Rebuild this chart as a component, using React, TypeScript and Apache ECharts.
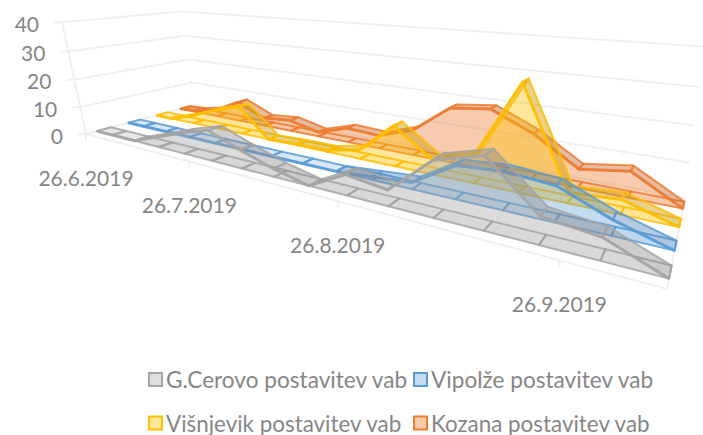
import React, { useEffect, useRef } from "react";
import * as echarts from "echarts";

const dates = ["2019-06-26","2019-07-01","2019-07-08","2019-07-15","2019-07-22","2019-07-29","2019-08-05","2019-08-12","2019-08-19","2019-08-26","2019-09-02","2019-09-09","2019-09-16","2019-09-23","2019-09-30","2019-10-07"];
const gCerovo = [0,0,0,3.5,7,10,6,2.5,0,6,4.5,15,18.5,7,5.5,0];
const vipolze = [0,0,0,0,0,0,0,0,0,1,2,9.5,10.5,9.5,4,0];
const visnjevik = [0,0,3,7,10,0,0.5,0.5,3,13,4.5,8.5,30.5,3,4,0];
const kozana = [0,0.5,2.5,7.5,3,4,1.5,5,4.5,8.5,17.5,19,13.5,5.5,7.5,0];
const valueTicks = [0,10,20,30,40];
const dateTicks = ["2019-06-26","2019-07-26","2019-08-26","2019-09-26"];
const dateTickLabels = ["26.6.2019","26.7.2019","26.8.2019","26.9.2019"];
const seriesNames = ["G.Cerovo postavitev vab","Vipolže postavitev vab","Višnjevik postavitev vab","Kozana postavitev vab"];
const seriesValues = [gCerovo, vipolze, visnjevik, kozana];
const seriesColors = ["#a5a5a5","#5b9bd5","#ffc000","#ed7d31"];
const seriesFaces = ["rgba(165,165,165,0.22)","rgba(91,155,213,0.2)","rgba(255,192,0,0.22)","rgba(237,125,49,0.22)"];
const seriesFloors = ["rgba(165,165,165,0.32)","rgba(91,155,213,0.28)","rgba(255,192,0,0.3)","rgba(237,125,49,0.3)"];
const seriesTops = ["rgba(125,125,125,0.32)","rgba(70,120,165,0.32)","rgba(185,150,40,0.42)","rgba(185,110,60,0.38)"];
const legendFills = ["#dedede","#c6dbef","#ffe699","#f8cbad"];
const legendFontSizes = [22.6,22.6,22.4,22.4];

const W = 703, H = 435, ZMAX = 40;
const FL = [86,134], FR = [667,289], BR = [685,198], BL = [195,105];
const VP = [461,1886], LAMBDA = -0.0015;
const dx1 = FR[0]-BR[0], dx2 = BL[0]-BR[0], sx = FL[0]-FR[0]+BR[0]-BL[0];
const dy1 = FR[1]-BR[1], dy2 = BL[1]-BR[1], sy = FL[1]-FR[1]+BR[1]-BL[1];
const det = dx1*dy2-dx2*dy1;
const g = (sx*dy2-dx2*sy)/det, h = (dx1*sy-sx*dy1)/det;
const a = FR[0]-FL[0]+g*FR[0], b = BL[0]-FL[0]+h*BL[0];
const d = FR[1]-FL[1]+g*FR[1], e = BL[1]-FL[1]+h*BL[1];
function proj(u:number,v:number,z:number){
  const w = g*u+h*v+1+LAMBDA*z;
  return [(a*u+b*v+FL[0]+LAMBDA*z*VP[0])/w,(d*u+e*v+FL[1]+LAMBDA*z*VP[1])/w];
}
const stripFront = [0.085,0.345,0.605,0.845];
const stripBack = [0.2,0.45,0.71,0.945];
function norm(api:any, t:any, val:number){
  const p = api.coord([t,val]);
  return [p[0]/W, (1-p[1]/H)*ZMAX];
}
const ts = (s:string)=>new Date(s+"T00:00:00Z").getTime();

function ribbon(i:number){
  return (params:any, api:any)=>{
    if(params.dataIndexInside!==0) return null;
    const n = params.dataInsideLength;
    const pts:number[][] = [];
    for(let k=0;k<n;k++) pts.push(norm(api, api.value(0,k), api.value(1,k)));
    const v1 = stripFront[i], v2 = stripBack[i];
    const col = seriesColors[i], face = seriesFaces[i], floor = seriesFloors[i], top = seriesTops[i];
    const kids:any[] = [];
    const line = (points:number[][],lw:number,f?:string)=>({type:f?"polygon":"polyline",shape:{points},style:{fill:f||"none",stroke:col,lineWidth:lw,lineJoin:"round",opacity:0.85}});
    for(let k=0;k<n-1;k++){
      kids.push(line([proj(pts[k][0],v1,0),proj(pts[k+1][0],v1,0),proj(pts[k+1][0],v2,0),proj(pts[k][0],v2,0)],2,floor));
    }
    kids.push({type:"polygon",shape:{points:[...pts.map(p=>proj(p[0],v2,p[1])),proj(pts[n-1][0],v2,0),proj(pts[0][0],v2,0)]},style:{fill:face}});
    for(let k=0;k<n-1;k++){
      if(pts[k][1]===0&&pts[k+1][1]===0) continue;
      kids.push(line([proj(pts[k][0],v1,pts[k][1]),proj(pts[k+1][0],v1,pts[k+1][1]),proj(pts[k+1][0],v2,pts[k+1][1]),proj(pts[k][0],v2,pts[k][1])],2,top));
    }
    kids.push({type:"polygon",shape:{points:[...pts.map(p=>proj(p[0],v1,p[1])),proj(pts[n-1][0],v1,0),proj(pts[0][0],v1,0)]},style:{fill:face}});
    kids.push(line(pts.map(p=>proj(p[0],v1,p[1])),3));
    return {type:"group",children:kids};
  };
}
const textStyle = {fill:"#868686",font:"21px Lato"};

export default function App(){
  const ref = useRef<HTMLDivElement>(null);
  useEffect(()=>{
    const chart = echarts.init(ref.current!,null,{renderer:"svg",width:W,height:H});
    const t0 = ts(dates[0]), t1 = ts(dates[dates.length-1]);
    const wallColor = "#f0f0f0";
    const wallSeries = {
      type:"custom",name:"walls",silent:true,clip:false,z:1,
      encode:{x:0,y:1},
      data:valueTicks.map(t=>[t0,t]),
      renderItem:(_p:any,api:any)=>{
        const z = norm(api,t0,api.value(1))[1];
        const A=proj(0,0,z),B=proj(0,1,z),C=proj(1,1,z);
        const kids:any[]=[
          {type:"polyline",shape:{points:[[A[0]-8,A[1]],A,B,C]},style:{fill:"none",stroke:wallColor,lineWidth:2}},
          {type:"text",style:{text:String(api.value(1)),x:A[0]-23,y:A[1]+1,align:"right",verticalAlign:"middle",...textStyle}},
        ];
        return {type:"group",children:kids};
      },
    };
    const floorSeries = {
      type:"custom",name:"floor",silent:true,clip:false,z:1,
      encode:{x:0,y:1},
      data:dateTicks.map((s,k)=>[ts(s),0,dateTickLabels[k]]),
      renderItem:(p:any,api:any)=>{
        const u = norm(api,api.value(0),0)[0];
        const P = proj(u,0,0);
        const kids:any[]=[
          {type:"line",shape:{x1:P[0],y1:P[1],x2:P[0],y2:P[1]+6},style:{stroke:wallColor,lineWidth:2}},
          {type:"text",style:{text:dateTickLabels[p.dataIndexInside],x:P[0],y:P[1]+43,align:"center",verticalAlign:"middle",...textStyle}},
        ];
        if(p.dataIndexInside===0){
          kids.push({type:"polyline",shape:{points:[proj(0,1,0),proj(0,0,0),proj(1,0,0),proj(1,1,0)]},style:{fill:"none",stroke:wallColor,lineWidth:2}});
          kids.push({type:"line",shape:{x1:proj(0,0,0)[0],y1:proj(0,0,0)[1],x2:proj(0,0,40)[0],y2:proj(0,0,40)[1]},style:{stroke:wallColor,lineWidth:2}});
        }
        return {type:"group",children:kids};
      },
    };
    const ribbons = [3,2,1,0].map(i=>({
      type:"custom",name:seriesNames[i],silent:true,clip:false,z:2+(3-i),
      encode:{x:0,y:1},
      itemStyle:{color:seriesColors[i]},
      data:dates.map((s,k)=>[ts(s),seriesValues[i][k]]),
      renderItem:ribbon(i),
    }));
    const legendPos = [[148,372],[413,372],[148,416],[413,416]];
    const legends = seriesNames.map((name,i)=>({
      left:legendPos[i][0],top:legendPos[i][1]-9,padding:[5,0,5,0],
      icon:"rect",itemWidth:13,itemHeight:13,itemGap:6,selectedMode:false,
      textStyle:{color:"#868686",fontFamily:"Lato",fontSize:legendFontSizes[i],lineHeight:20,padding:[0,0,0,-1]},
      data:[{name,itemStyle:{color:legendFills[i],borderColor:seriesColors[i],borderWidth:2}}],
    }));
    chart.setOption({
      animation:false,
      backgroundColor:"#ffffff",
      legend:legends,
      grid:{left:0,top:0,width:W,height:H,show:false},
      xAxis:{type:"time",min:t0,max:t1,show:false},
      yAxis:{type:"value",min:0,max:ZMAX,interval:10,show:false},
      series:[wallSeries,floorSeries,...ribbons],
    });
    return ()=>chart.dispose();
  },[]);
  return <div ref={ref} style={{position:"fixed",left:0,top:0,width:W,height:H}}/>;
}
